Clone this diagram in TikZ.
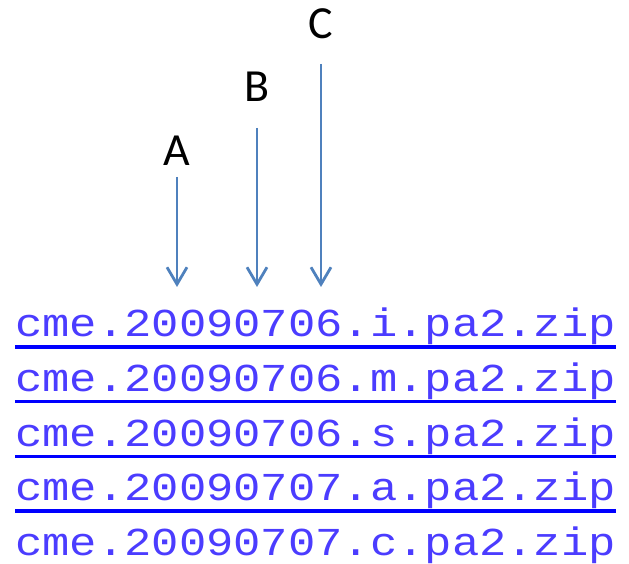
\documentclass[tikz,border=0pt]{standalone}
\usepackage{fontspec}
\setmainfont{Carlito}
\setmonofont{Liberation Mono}
\usetikzlibrary{positioning,arrows.meta}
\definecolor{arrowblue}{RGB}{79,129,189}
\definecolor{linkblue}{RGB}{0,0,255}
\definecolor{linktext}{RGB}{75,60,255}
\begin{document}
\begin{tikzpicture}[x=1bp,y=1bp,line join=round,
    lbl/.style={anchor=base,inner sep=0pt,font=\fontsize{46bp}{50bp}\selectfont},
    fname/.style={anchor=base west,inner sep=0pt,text=linktext,font=\fontsize{45.5bp}{55bp}\ttfamily},
    pointer/.style={arrowblue,line width=2.8bp,-{Straight Barb[length=17bp,width=20bp]}}]
  \useasboundingbox (0,0) rectangle (629,564);
  \foreach \i/\f in {1/20090706.i,2/20090706.m,3/20090706.s,4/20090707.a,5/20090707.c} {
      \node[fname] (file\i) at (15,282-54.75*\i) {\scalebox{1}[0.87]{cme.\f.pa2.zip}};
      \ifnum \i < 5 \draw [linkblue,line width=3.5bp] (15,271.75-54.75*\i) -- (616,271.75-54.75*\i); \fi
    }
  \foreach \l/\x/\y/\b in {A/177/387/398,B/257/436/462,C/321/500/525} {
      \coordinate (start\l) at (\x,\y);
      \coordinate (tip\l) at (\x,277);
      \node[lbl] (\l) at (\x,\b) {\l};
      \draw [pointer] (start\l) -- (tip\l);
    }
\end{tikzpicture}
\end{document}
